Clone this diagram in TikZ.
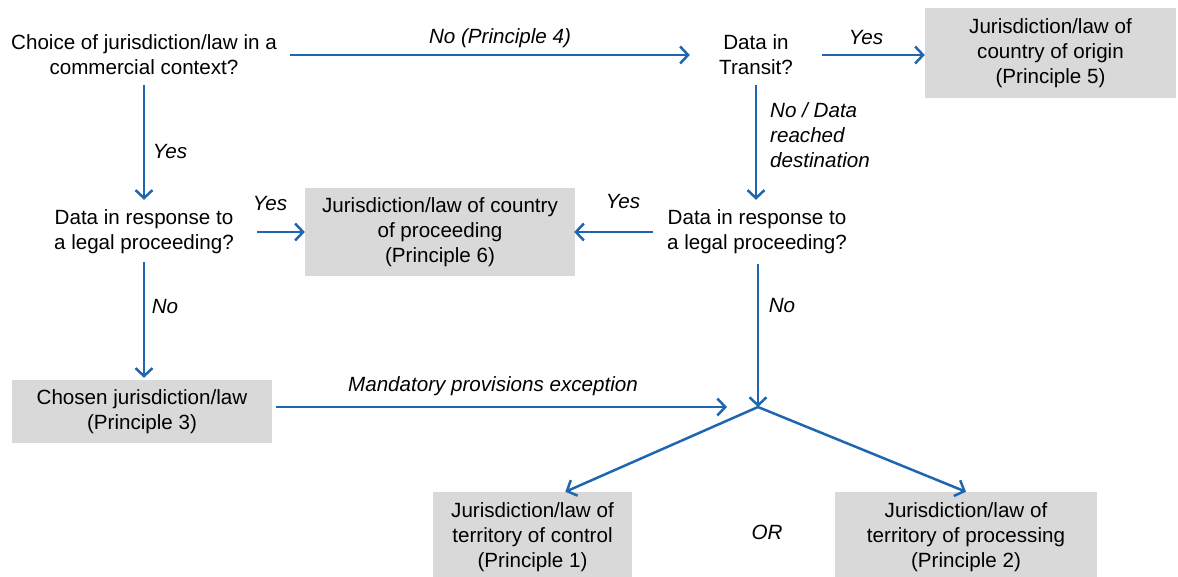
\documentclass[tikz,border=0pt]{standalone}
\usepackage{fontspec}
\setmainfont{Liberation Sans}
\usetikzlibrary{arrows.meta}
\definecolor{arrowblue}{HTML}{1F66B0}
\definecolor{boxgray}{HTML}{D9D9D9}
\begin{document}
\begin{tikzpicture}[x=1pt,y=-1pt,
  every node/.style={font=\fontsize{20.6}{25}\selectfont},
  question/.style={align=center,inner sep=0pt},
  result/.style={fill=boxgray,align=center,inner sep=0pt},
  arr/.style={draw=arrowblue,line width=2.5pt,-{Straight Barb[length=8pt,width=17pt,line width=2.5pt]}},
  lbl/.style={font=\fontsize{20.6}{25}\selectfont\itshape,inner sep=0pt}]
\useasboundingbox (0,0) rectangle (1178,577);

% question nodes
\node[question,minimum width=292pt,minimum height=60pt] (q1) at (144,55) {Choice of jurisdiction/law in a\\commercial context?};
\node[question,minimum width=132pt,minimum height=60pt] (q2) at (756,55) {Data in\\Transit?};
\node[question,minimum width=226pt,minimum height=64pt] (q3) at (144,232) {Data in response to\\a legal proceeding?};
\node[question,minimum width=208pt,minimum height=64pt] (q4) at (757,232) {Data in response to\\a legal proceeding?};

% result boxes
\node[result,minimum width=251pt,minimum height=90pt] (b5) at (1050.5,53) {Jurisdiction/law of\\country of origin\\(Principle 5)};
\node[result,minimum width=270pt,minimum height=88pt] (b6) at (440,232) {Jurisdiction/law of country\\of proceeding\\(Principle 6)};
\node[result,minimum width=260pt,minimum height=63pt] (b3) at (142,411.5) {Chosen jurisdiction/law\\(Principle 3)};
\node[result,minimum width=199pt,minimum height=90pt] (b1) at (532.5,537) {Jurisdiction/law of\\territory of control\\(Principle 1)};
\node[result,minimum width=262pt,minimum height=90pt] (b2) at (966,537) {Jurisdiction/law of\\territory of processing\\(Principle 2)};

\coordinate (j) at (758,407);

% connectors
\draw[arr] (q1.east) -- (q2.west);
\draw[arr] (q2.east) -- (q2.east -| b5.west);
\draw[arr] (q1.south) -- (q3.north);
\draw[arr] (q2.south) -- (q2.south |- q4.north);
\draw[arr] (q3.east) -- (b6.west);
\draw[arr,shorten >=-1pt] (q4.west) -- (b6.east);
\draw[arr,shorten <=-2pt,shorten >=2pt] (q3.south) -- (q3.south |- b3.north);
\draw[arr,shorten <=4pt,shorten >=31pt] (b3.east |- j) -- (j);
\draw[arr] (q4.south -| j) -- (j);
\draw[arr] (j) -- (b1.54);
\draw[arr] (j) -- (b2.north);

% labels
\node[lbl] (lno4) at (500,38) {No (Principle 4)};
\node[lbl] (lyes1) at (866,38) {Yes};
\node[lbl] (lyes2) at (170,152) {Yes};
\node[lbl,align=left,anchor=west] (lnodata) at (770,135) {No / Data\\reached\\destination};
\node[lbl] (lyes3) at (270,204) {Yes};
\node[lbl] (lyes4) at (623,202) {Yes};
\node[lbl] (lno1) at (165,307) {No};
\node[lbl] (lno2) at (782,306) {No};
\node[lbl] (lmand) at (493,386) {Mandatory provisions exception};
\node[lbl] (lor) at (767,532) {OR};
\end{tikzpicture}
\end{document}
